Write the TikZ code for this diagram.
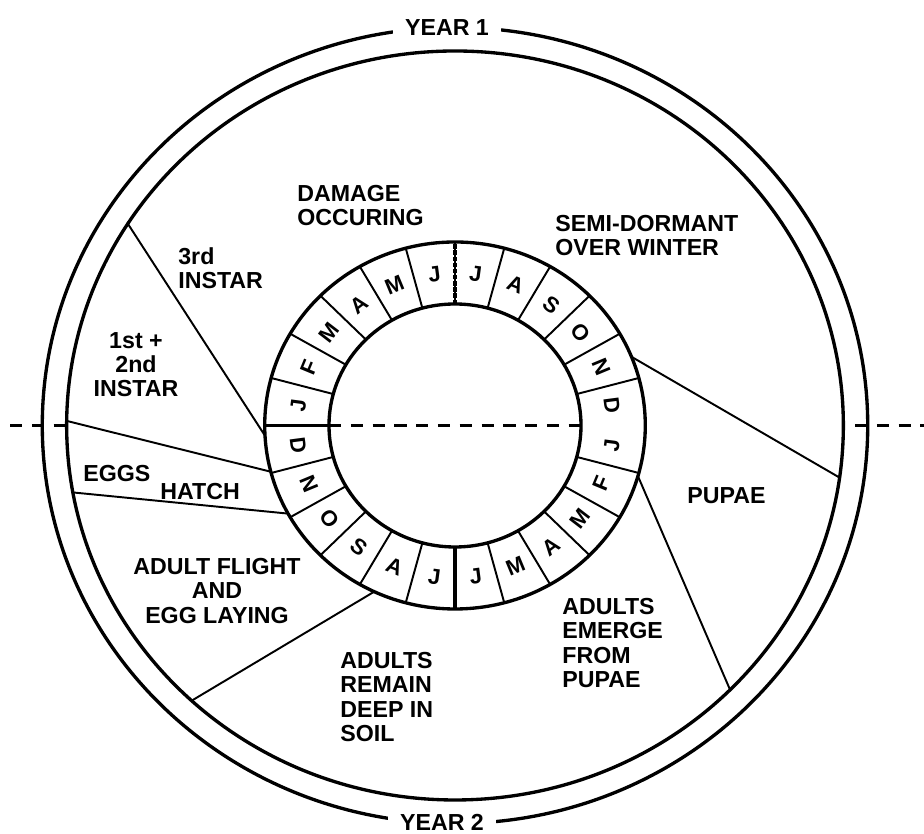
\documentclass[tikz,border=0pt]{standalone}
\usepackage{fontspec}
\setmainfont{Liberation Sans}
\usepackage{xcolor}
\usepackage{tikz}
\usetikzlibrary{positioning}
\definecolor{cink}{HTML}{000000}
\tikzset{
  ringline/.style={draw=cink, line width=1.9pt},
  divline/.style={draw=cink, line width=1.1pt},
  divthick/.style={draw=cink, line width=2.2pt},
  spoke/.style={draw=cink, line width=1.1pt},
  dashline/.style={draw=cink, line width=1.6pt, dash pattern=on 7pt off 5.4pt},
  stagetext/.style={font=\fontsize{13.2}{13.8}\selectfont\bfseries, text=cink, inner sep=0pt},
  monthtext/.style={font=\fontsize{12.5}{13}\selectfont\bfseries, text=cink, inner sep=0pt},
  yeartext/.style={font=\fontsize{13.2}{13.8}\selectfont\bfseries, text=cink, fill=white,
                   inner xsep=7pt, inner ysep=2pt},
}
% spoke from the month ring (angle #1) to the inner year circle (angle #2)
\newcommand{\spokeline}[2]{\draw[spoke] (#1:183.5) -- (#2:374.5);}

\begin{document}
\begin{tikzpicture}[x=0.02cm, y=0.02cm]

  \useasboundingbox (0,0) rectangle (924,834);

  % year divider, outside the circles
  \draw[dashline] (10,408.5) -- (67,408.5);
  \draw[dashline] (855,408.5) -- (924,408.5);

  \begin{scope}[shift={(455,408.5)}, xscale=1.037]
    % double year circle
    \draw[ringline] (0,0) circle (398);
    \draw[ringline] (0,0) circle (374.5);

    % month ring
    \draw[ringline] (0,0) circle (183.5);
    \draw[ringline] (0,0) circle (121.5);
    \foreach \a in {15,30,...,345}
      \draw[divline] (\a:121.5) -- (\a:183.5);
    \draw[divthick] (180:121.5) -- (180:183.5);
    \draw[divthick] (270:121.5) -- (270:183.5);
    \draw[divthick, dash pattern=on 2.5pt off 1pt] (90:121.5) -- (90:183.5);
    \draw[dashline] (180:121.5) -- (0:121.5);

    \foreach \m [count=\i from 0] in {J,F,M,A,M,J,J,A,S,O,N,D} {
      \node[monthtext, rotate={82.5-15*\i}] (mu\i) at ({172.5-15*\i}:152.5) {\m};
      \node[monthtext, rotate={82.5-15*\i}] (ml\i) at ({-7.5-15*\i}:152.5) {\m};
    }

    % stage boundaries
    \spokeline{183.2}{147.4}
    \spokeline{194.6}{179.3}
    \spokeline{208.7}{190.3}
    \spokeline{244.9}{227.3}
    \spokeline{344}{315.1}
    \spokeline{22}{352}
  \end{scope}

  % stage labels
  \node[stagetext, anchor=north west, align=left] (damage) at (297,649) {DAMAGE\\OCCURING};
  \node[stagetext, anchor=north west, align=left] (dormant) at (555,619) {SEMI-DORMANT\\OVER WINTER};
  \node[stagetext, anchor=north west, align=left] (third) at (178,587) {3rd\\INSTAR};
  \node[stagetext, anchor=north, align=center] (first) at (136,502) {1st +\\2nd\\INSTAR};
  \node[stagetext, anchor=north west] (eggs) at (83,369) {EGGS};
  \node[stagetext, anchor=north west] (hatch) at (160,351) {HATCH};
  \node[stagetext, anchor=north, align=center] (flight) at (217,276) {ADULT FLIGHT\\AND\\EGG LAYING};
  \node[stagetext, anchor=north west, align=left] (remain) at (340,182) {ADULTS\\REMAIN\\DEEP IN\\SOIL};
  \node[stagetext, anchor=north west, align=left] (emerge) at (562,236) {ADULTS\\EMERGE\\FROM\\PUPAE};
  \node[stagetext, anchor=north west] (pupae) at (687,347) {PUPAE};

  \node[yeartext] (year1) at (447,806) {YEAR 1};
  \node[yeartext] (year2) at (442,12) {YEAR 2};

\end{tikzpicture}
\end{document}
